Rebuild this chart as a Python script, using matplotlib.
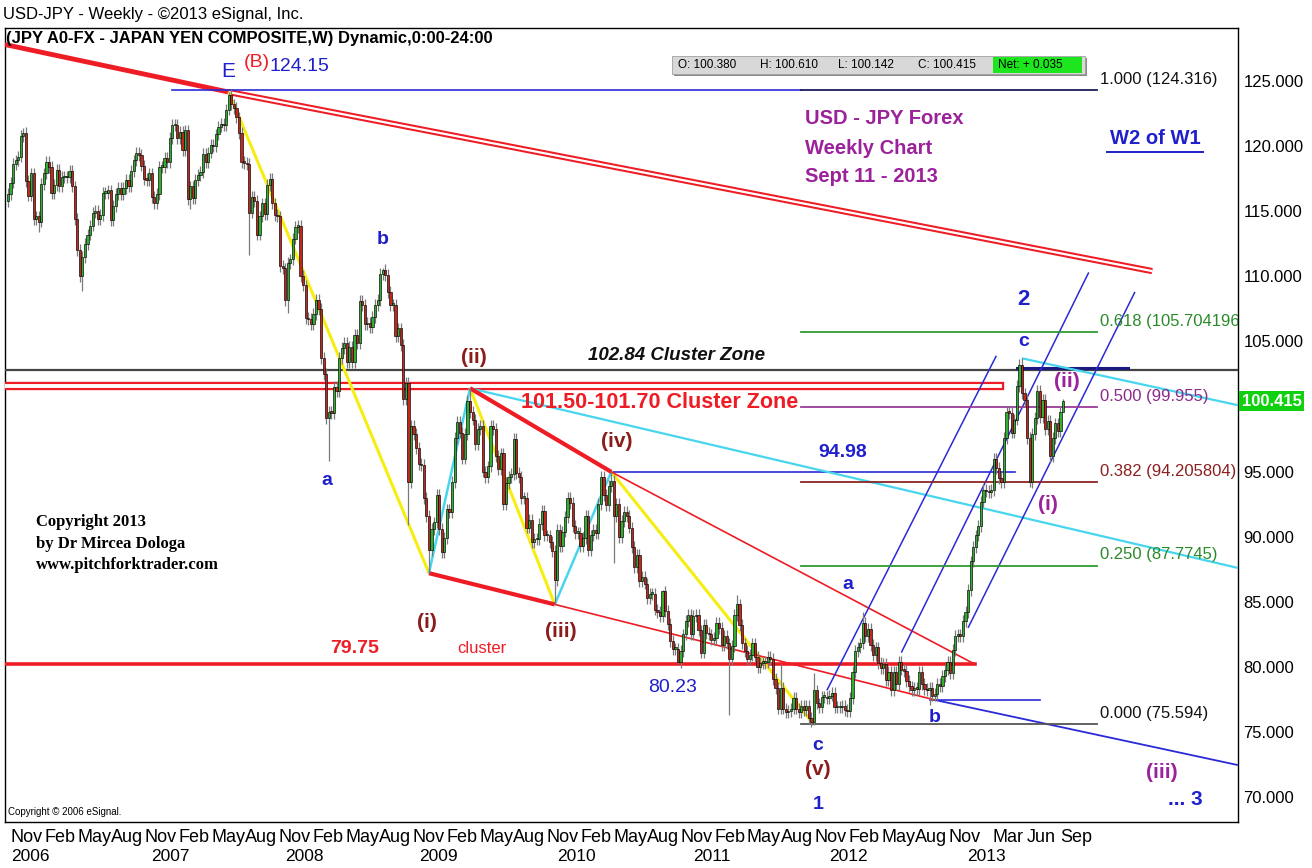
import numpy as np
import pandas as pd
import matplotlib
matplotlib.use('Agg')
import matplotlib.pyplot as plt
import matplotlib.dates as mdates
from matplotlib.patches import Rectangle
from matplotlib.lines import Line2D

plt.rcParams['font.family'] = ['Liberation Sans', 'DejaVu Sans']

# Cierres semanales USD/JPY (lunes)
closes_2005 = [116.3, 117.2, 118.6, 118.9, 119.2, 120.8, 121.0, 117.3, 116.2, 117.9]
closes_2006 = [114.4, 114.6, 114.2, 117.1, 117.9,
               118.8, 118.4, 116.4, 117.0,
               118.2, 116.9, 117.6, 117.6,
               117.6, 118.1, 116.9, 114.4,
               112.0, 110.0, 111.5, 112.5, 113.2,
               113.9, 114.9, 115.0, 114.4,
               114.7, 116.4, 116.4, 116.6, 114.3,
               115.4, 116.3, 116.8, 116.3,
               116.8, 117.4, 116.9, 118.1,
               118.9, 119.5, 119.3, 118.5, 117.5,
               117.4, 117.9, 116.1, 115.6,
               116.3, 118.4, 118.4, 119.1]
closes_2007 = [118.8, 120.6, 121.6, 121.6, 120.6,
               121.1, 119.7, 121.2, 115.9,
               116.9, 116.0, 117.4, 117.8,
               118.0, 119.4, 118.8, 119.5, 120.1,
               120.0, 120.9, 121.5, 121.7,
               121.6, 122.8, 123.9, 123.2,
               122.9, 122.2, 121.0, 118.8, 118.7,
               118.6, 114.9, 116.1, 115.8,
               113.2, 114.6, 115.6, 114.8,
               117.0, 117.5, 115.6, 114.7, 114.6,
               110.8, 110.6, 108.2, 111.0,
               111.3, 112.9, 113.8, 113.9, 110.0]
closes_2008 = [109.3, 106.8, 106.7, 106.3,
               107.1, 108.2, 107.5, 103.7,
               102.5, 99.1, 99.6, 99.5, 101.5,
               101.2, 103.7, 104.5, 104.9,
               103.4, 104.6, 103.4, 105.5,
               104.9, 108.1, 107.8, 106.3, 106.4,
               106.1, 106.9, 107.8, 108.2,
               110.2, 110.5, 110.1, 108.8,
               107.8, 107.8, 105.4, 106.0, 104.7,
               100.6, 101.8, 94.2, 98.5,
               97.9, 96.8, 95.6, 95.5,
               93.0, 91.6, 89.0, 90.6, 91.1]
closes_2009 = [93.2, 90.6, 88.8, 89.9,
               92.1, 91.9, 94.2, 97.6,
               98.8, 98.0, 96.0, 97.9, 100.4,
               99.6, 99.0, 97.1, 98.3,
               98.5, 95.0, 94.6, 95.4,
               98.5, 98.3, 96.2, 95.2, 96.4,
               92.5, 94.1, 94.6, 94.8,
               97.5, 94.9, 94.6, 93.0, 93.0,
               90.7, 91.3, 89.6, 89.8,
               89.8, 91.0, 92.0, 90.1,
               90.1, 89.6, 88.9, 86.7, 90.5,
               89.3, 90.4, 91.5, 93.0]
closes_2010 = [92.6, 90.8, 90.3, 90.3,
               89.3, 89.9, 91.6, 89.0,
               90.1, 90.5, 90.3, 92.5, 94.6,
               93.2, 92.4, 93.9, 94.3,
               91.6, 92.5, 90.0, 91.2, 91.9,
               91.6, 90.7, 89.2, 87.7,
               88.6, 86.6, 86.9, 86.4,
               85.3, 85.6, 85.6, 84.4, 84.2,
               83.9, 85.8, 84.3, 83.3,
               82.0, 81.4, 81.4, 80.4,
               81.2, 82.5, 83.5, 84.0, 82.5,
               83.9, 84.0, 82.8, 81.1]
closes_2011 = [83.2, 82.6, 82.5, 82.1, 82.2,
               83.4, 83.0, 81.7, 82.4,
               81.8, 80.6, 81.6, 84.0,
               84.8, 83.2, 81.8, 81.2,
               80.6, 80.9, 81.8, 80.8, 80.0,
               80.3, 80.3, 80.4, 80.8,
               80.6, 79.1, 78.4, 76.8,
               78.4, 76.8, 76.5, 76.6, 76.8,
               77.6, 76.8, 76.5, 77.0,
               76.7, 77.0, 76.1, 75.8, 78.2,
               77.2, 76.9, 77.7, 77.7,
               77.6, 77.8, 78.0, 76.9]
closes_2012 = [76.9, 76.9, 77.0, 76.7, 76.6,
               77.6, 79.6, 81.2, 81.5,
               81.8, 83.4, 82.4, 82.9,
               81.7, 80.9, 81.5, 80.3, 79.9,
               80.2, 79.0, 79.6, 78.2,
               79.6, 78.7, 80.4, 79.8,
               79.7, 78.9, 78.5, 78.2, 78.4,
               78.3, 79.6, 78.7, 78.3,
               78.2, 78.4, 77.8, 77.9,
               78.7, 78.5, 79.3, 79.8, 80.4,
               79.5, 81.3, 82.4, 82.5,
               82.4, 83.5, 84.2, 85.9, 88.1]
closes_2013 = [89.2, 90.1, 90.8, 92.7,
               93.6, 93.5, 93.4, 93.6,
               96.0, 95.3, 94.5, 94.2,
               97.6, 99.6, 99.5, 98.0, 99.0,
               101.6, 103.2, 101.0, 100.5,
               97.6, 94.2, 97.9, 99.1,
               101.2, 99.2, 100.5, 98.3, 98.9,
               96.2, 97.6, 98.7, 98.1,
               99.6, 100.415]

first_open = 115.8
spike_hi = {'2005-12-05': 121.4, '2007-06-18': 124.15, '2008-08-11': 110.6,
            '2009-04-06': 101.4, '2010-04-26': 94.98, '2010-09-13': 85.9,
            '2011-04-04': 85.5, '2011-08-01': 80.2, '2011-10-31': 79.5,
            '2012-03-12': 84.2, '2013-05-20': 103.7, '2013-09-09': 100.61}
spike_lo = {'2006-01-16': 113.4, '2006-05-15': 108.9, '2007-03-05': 115.2,
            '2007-08-13': 111.6, '2007-11-26': 107.2, '2008-03-17': 95.8,
            '2008-10-20': 90.9, '2008-12-15': 87.2, '2009-11-23': 84.8,
            '2010-05-03': 88.0, '2010-10-25': 80.2, '2011-03-14': 76.3,
            '2011-10-31': 75.56, '2012-09-10': 77.1, '2013-06-10': 93.8,
            '2013-09-09': 100.14}

y_ticks = [70, 75, 80, 85, 90, 95, 105, 110, 115, 120, 125]
month_ticks = ['2005-11-01', '2006-02-01', '2006-05-01', '2006-08-01', '2006-11-01',
               '2007-02-01', '2007-05-01', '2007-08-01', '2007-11-01',
               '2008-02-01', '2008-05-01', '2008-08-01', '2008-11-01',
               '2009-02-01', '2009-05-01', '2009-08-01', '2009-11-01',
               '2010-02-01', '2010-05-01', '2010-08-01', '2010-11-01',
               '2011-02-01', '2011-05-01', '2011-08-01', '2011-11-01',
               '2012-02-01', '2012-05-01', '2012-08-01', '2012-11-01',
               '2013-03-01', '2013-06-01', '2013-09-01']
year_labels = ['2006', '2007', '2008', '2009', '2010', '2011', '2012', '2013']
year_dates = ['2005-12-25', '2007-01-10', '2008-01-10', '2009-01-10',
              '2010-01-20', '2011-01-25', '2012-02-01', '2013-02-12']

# niveles de Fibonacci
fib_levels = [124.316, 105.704196, 99.955, 94.205804, 87.7745, 75.594]
fib_names = ['1.000 (124.316)', '0.618 (105.704196)', '0.500 (99.955)',
             '0.382 (94.205804)', '0.250 (87.7745)', '0.000 (75.594)']
fib_line_col = ['#1c1c5c', '#2e9a2e', '#9a3a9a', '#8b2424', '#2e9a2e', '#555555']
fib_txt_col = ['#111111', '#2a8a2a', '#8a2a8a', '#8b2020', '#2a8a2a', '#111111']

GREEN = '#2fae2f'
RED = '#c0281e'
LRED = '#ee1c24'
BLUE = '#2a2ad8'
TBLUE = '#1f1fcc'
CYAN = '#48d6ee'
YELLOW = '#f6ee10'
DRED = '#8a1c1c'
PURP = '#9b229b'

W, H = 1312, 868
fig = plt.figure(figsize=(W / 100, H / 100), dpi=100)
ax = fig.add_axes([5 / W, 1 - 822 / H, (1238 - 5) / W, (822 - 28) / H])


def fx(px):
    return px / W


def fy(py):
    return 1 - py / H


def dn(s):
    return mdates.date2num(pd.Timestamp(s))


def seg(a, b, **kw):
    ax.plot([dn(a[0]), dn(b[0])], [a[1], b[1]], solid_capstyle='butt', **kw)


# velas
closes = np.array(closes_2005 + closes_2006 + closes_2007 + closes_2008 + closes_2009
                  + closes_2010 + closes_2011 + closes_2012 + closes_2013)
dates = pd.date_range('2005-10-24', periods=len(closes), freq='7D')
opens = np.r_[first_open, closes[:-1]]
highs = np.maximum(opens, closes) + 0.45
lows = np.minimum(opens, closes) - 0.45
for d, v in spike_hi.items():
    highs[dates.get_loc(pd.Timestamp(d))] = v
for d, v in spike_lo.items():
    lows[dates.get_loc(pd.Timestamp(d))] = v
xd = mdates.date2num(dates)
up = closes >= opens
ax.vlines(xd, lows, highs, color='#7a7a7a', lw=0.9, zorder=4)
ax.bar(xd, np.maximum(np.abs(closes - opens), 0.12), bottom=np.minimum(opens, closes),
       width=6, color=np.where(up, GREEN, RED), edgecolor='black', linewidth=0.45, zorder=5)

xl = dn('2005-10-16')
xr = dn('2014-12-30')

# lineas de tendencia
seg(('2005-10-16', 127.8), ('2007-06-18', 124.15), color=LRED, lw=3.5, zorder=3)
seg(('2007-06-18', 124.15), ('2014-05-10', 110.4), color=LRED, lw=4.5, zorder=3)
seg(('2007-06-18', 124.15), ('2014-05-10', 110.4), color='white', lw=1.6, zorder=3)
ax.plot([dn('2007-01-13'), dn('2011-09-26')], [124.316, 124.316], color=BLUE, lw=1.2, zorder=3)

# zonas de cluster
ax.axhline(102.84, color='#444444', lw=1.6, zorder=3)
ax.plot([xl, dn('2013-03-21')], [101.6, 101.6], color=LRED, lw=6, zorder=3)
ax.plot([xl, dn('2013-03-21')], [101.6, 101.6], color='white', lw=2.8, zorder=3)
ax.plot([dn('2013-05-06'), dn('2014-03-05')], [102.95, 102.95], color='#1a1a80', lw=2.2, zorder=3)
ax.plot([xl, dn('2013-01-12')], [80.2, 80.2], color=LRED, lw=2.6, zorder=3)
ax.plot([dn('2010-04-26'), dn('2013-04-30')], [94.98, 94.98], color=BLUE, lw=1.2, zorder=3)
ax.plot([dn('2012-09-10'), dn('2013-07-08')], [77.46, 77.46], color=BLUE, lw=1.2, zorder=3)

# ondas
seg(('2007-06-18', 124.15), ('2008-12-15', 87.2), color=YELLOW, lw=2.2, zorder=3)
seg(('2009-04-06', 101.4), ('2009-11-23', 84.8), color=YELLOW, lw=2.2, zorder=3)
seg(('2010-04-26', 94.98), ('2011-10-31', 75.56), color=YELLOW, lw=2.2, zorder=3)
seg(('2008-12-15', 87.2), ('2009-04-06', 101.4), color=CYAN, lw=1.8, zorder=3)
seg(('2009-11-23', 84.8), ('2010-04-26', 94.98), color=CYAN, lw=1.8, zorder=3)
seg(('2009-04-06', 101.4), ('2014-12-30', 87.6), color=CYAN, lw=1.6, zorder=3)
seg(('2013-05-20', 103.7), ('2014-12-30', 100.1), color=CYAN, lw=1.6, zorder=3)
seg(('2009-04-06', 101.4), ('2010-04-26', 94.98), color=LRED, lw=3, zorder=3)
seg(('2010-04-26', 94.98), ('2013-01-12', 80.2), color=LRED, lw=1.2, zorder=3)
seg(('2008-12-15', 87.2), ('2009-11-23', 84.8), color=LRED, lw=3, zorder=3)
seg(('2009-11-23', 84.8), ('2012-09-25', 77.46), color=LRED, lw=1.2, zorder=3)
seg(('2012-09-25', 77.46), ('2014-12-30', 72.46), color=BLUE, lw=1.3, zorder=3)

# tridente
seg(('2011-12-05', 78.2), ('2013-03-11', 103.9), color=BLUE, lw=1.1, zorder=3)
seg(('2012-06-25', 81.1), ('2013-11-18', 110.3), color=BLUE, lw=1.1, zorder=3)
seg(('2012-12-24', 83.0), ('2014-03-24', 108.8), color=BLUE, lw=1.1, zorder=3)

# Fibonacci
for lvl, name, lc, tc in zip(fib_levels, fib_names, fib_line_col, fib_txt_col):
    ax.plot([dn('2011-09-26'), dn('2013-12-11')], [lvl, lvl], color=lc, lw=1.3, zorder=3)
    ax.text(dn('2013-12-19'), lvl + 0.25, name, color=tc, fontsize=12, ha='left',
            va='bottom', clip_on=True, zorder=6)

# etiquetas
def lab(d, p, s, c, fs=14, w='bold', **kw):
    ax.text(dn(d), p, s, color=c, fontsize=fs, fontweight=w, ha='center', va='center', zorder=6, **kw)


lab('2007-06-18', 125.7, 'E', TBLUE, 15, 'normal')
ax.text(dn('2007-07-30'), 126.4, '(B)', color=LRED, fontsize=14, ha='left', va='center', zorder=6)
ax.text(dn('2007-10-06'), 126.15, '124.15', color=TBLUE, fontsize=14, ha='left', va='center', zorder=6)
lab('2008-08-12', 112.8, 'b', TBLUE)
lab('2008-03-12', 94.35, 'a', TBLUE)
lab('2009-04-17', 103.8, '(ii)', DRED, 15)
lab('2010-05-11', 97.3, '(iv)', DRED, 15)
lab('2008-12-10', 83.45, '(i)', DRED, 15)
lab('2009-12-10', 82.7, '(iii)', DRED, 15)
lab('2008-05-27', 81.45, '79.75', LRED)
lab('2009-05-09', 81.45, 'cluster', LRED, 12, 'normal')
lab('2010-10-09', 78.4, '80.23', TBLUE, 14, 'normal')
lab('2012-01-18', 96.5, '94.98', TBLUE)
lab('2012-02-01', 86.3, 'a', TBLUE)
lab('2012-09-25', 76.1, 'b', TBLUE)
lab('2011-11-11', 74.0, 'c', TBLUE)
lab('2011-11-11', 72.1, '(v)', DRED, 15)
lab('2011-11-11', 69.4, '1', TBLUE)
lab('2013-05-25', 108.2, '2', TBLUE, 16)
lab('2013-05-25', 105.0, 'c', TBLUE)
lab('2013-09-20', 101.9, '(ii)', PURP, 15)
lab('2013-07-30', 92.45, '(i)', PURP, 15)
lab('2014-06-06', 71.9, '(iii)', PURP, 15)
lab('2014-08-08', 69.8, '... 3', TBLUE, 15)
lab('2010-10-22', 103.9, '102.84 Cluster Zone', '#111111', 13.5, 'bold', style='italic')
lab('2010-09-06', 100.3, '101.50-101.70 Cluster Zone', LRED, 15.5)

# ejes
ax.set_xlim(xl, xr)
ax.set_ylim(68.09, 129.07)
ax.yaxis.tick_right()
ax.set_yticks(y_ticks)
ax.set_yticklabels([f'{v:.3f}' for v in y_ticks])
ax.tick_params(axis='y', length=0, pad=4, labelsize=12)
ax.set_xticks([dn(d) for d in month_ticks])
ax.set_xticklabels([pd.Timestamp(d).strftime('%b') for d in month_ticks], ha='left')
ax.tick_params(axis='x', length=0, pad=5, labelsize=13)
for yr, d in zip(year_labels, year_dates):
    ax.text(dn(d), -0.044, yr, transform=ax.get_xaxis_transform(),
            ha='center', va='center', fontsize=12.5, clip_on=False)
for sp in ax.spines.values():
    sp.set_color('black')
    sp.set_linewidth(1)

# precio actual
ax.text(1.003, 100.415, '100.415', transform=ax.get_yaxis_transform(), color='white',
        fontsize=12, fontweight='bold', ha='left', va='center', clip_on=False,
        bbox=dict(boxstyle='square,pad=0.15', facecolor='#10d010', edgecolor='none'))

# textos de la figura
fig.text(fx(3), fy(14), 'USD-JPY - Weekly - \u00a92013 eSignal, Inc.', fontsize=12, va='center')
fig.text(fx(6), fy(39), '(JPY A0-FX - JAPAN YEN COMPOSITE,W) Dynamic,0:00-24:00',
         fontsize=12, fontweight='bold', va='center')
fig.text(fx(8), fy(812), 'Copyright \u00a9 2006 eSignal.', fontsize=7, va='center')
for i, s in enumerate(['USD - JPY Forex', 'Weekly Chart', 'Sept 11 - 2013']):
    fig.text(fx(805), fy(119 + 29 * i), s, color=PURP, fontsize=14.5, fontweight='bold', va='center')
fig.text(fx(1155), fy(139), 'W2 of W1', color=TBLUE, fontsize=14.5, fontweight='bold',
         ha='center', va='center')
fig.add_artist(Line2D([fx(1107), fx(1203)], [fy(152), fy(152)], color=TBLUE, lw=1.4))
for i, s in enumerate(['Copyright 2013', 'by Dr Mircea Dologa', 'www.pitchforktrader.com']):
    fig.text(fx(36), fy(522 + 21.5 * i), s, family=['Liberation Serif', 'DejaVu Serif'],
             fontsize=12, fontweight='bold', va='center')

# recuadro OHLC
fig.add_artist(Rectangle((fx(674), fy(76)), fx(1087) - fx(674), (76 - 58) / H,
                         transform=fig.transFigure, facecolor='#8a8a8a', edgecolor='none'))
fig.add_artist(Rectangle((fx(672), fy(74)), fx(1085) - fx(672), (74 - 56) / H,
                         transform=fig.transFigure, facecolor='#d8d8d8', edgecolor='#a0a0a0', lw=0.6))
fig.add_artist(Rectangle((fx(993), fy(73)), fx(1082) - fx(993), (73 - 57) / H,
                         transform=fig.transFigure, facecolor='#1ee61e', edgecolor='none'))
for x0, s in [(678, 'O: 100.380'), (760, 'H: 100.610'), (838, 'L: 100.142'),
              (918, 'C: 100.415'), (998, 'Net: + 0.035')]:
    fig.text(fx(x0), fy(65), s, fontsize=8.5, va='center')

fig.savefig('out.png', dpi=100)
